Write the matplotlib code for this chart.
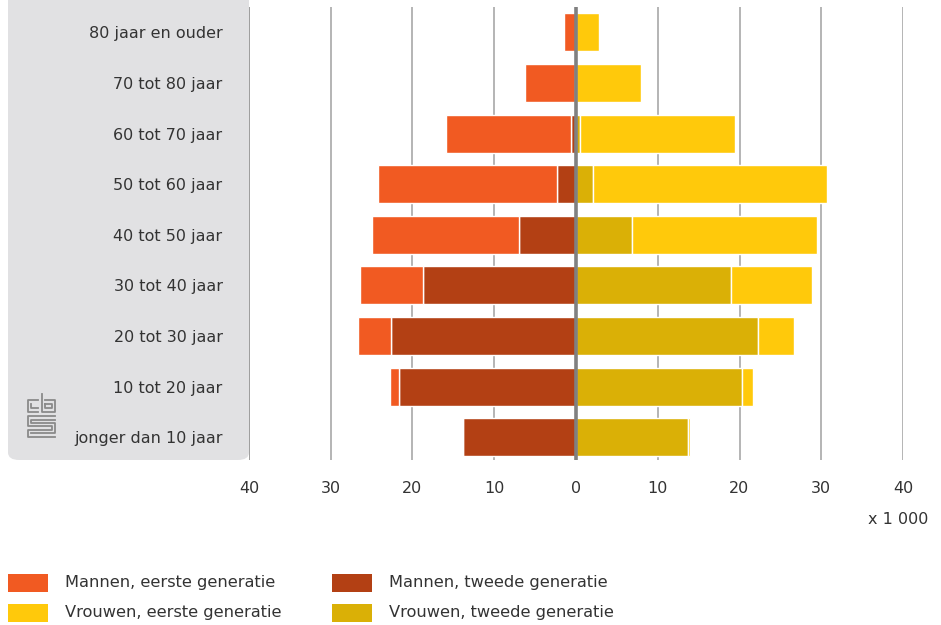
import matplotlib
matplotlib.use("Agg")
import matplotlib.pyplot as plt
from matplotlib.patches import FancyBboxPatch, Rectangle
from matplotlib.lines import Line2D
import numpy as np

plt.rcParams['font.family'] = ['DejaVu Sans']

categories = ["jonger dan 10 jaar", "10 tot 20 jaar", "20 tot 30 jaar", "30 tot 40 jaar",
              "40 tot 50 jaar", "50 tot 60 jaar", "60 tot 70 jaar", "70 tot 80 jaar",
              "80 jaar en ouder"]
# values x 1 000
mannen_tweede = [13.8, 21.7, 22.6, 18.7, 7.0, 2.3, 0.6, 0.1, 0.0]
mannen_eerste = [0.0, 1.1, 4.1, 7.7, 18.0, 21.9, 15.3, 6.1, 1.5]
vrouwen_tweede = [13.7, 20.3, 22.3, 18.9, 6.9, 2.1, 0.5, 0.0, 0.0]
vrouwen_eerste = [0.2, 1.4, 4.4, 10.0, 22.6, 28.6, 19.0, 8.0, 2.8]

series_labels = ["Mannen, eerste generatie", "Mannen, tweede generatie",
                 "Vrouwen, eerste generatie", "Vrouwen, tweede generatie"]
xticks = [-40, -30, -20, -10, 0, 10, 20, 30, 40]
xtick_labels = ["40", "30", "20", "10", "0", "10", "20", "30", "40"]

c_m1 = "#F15A22"
c_m2 = "#B34014"
c_v1 = "#FFC90B"
c_v2 = "#DAB006"
txt = "#333333"

W, H = 941, 625
fig = plt.figure(figsize=(W / 100, H / 100), dpi=100)

# grey panel behind category labels
panel = FancyBboxPatch((8 / W, 1 - 460 / H), (249 - 8) / W, 470 / H,
                       boxstyle="round,pad=0,rounding_size=0.012",
                       transform=fig.transFigure, facecolor="#E1E1E3",
                       edgecolor="none", zorder=-5)
fig.patches.append(panel)

ax = fig.add_axes([249 / W, 1 - 460 / H, (903 - 249) / W, (460 - 7) / H])
ax.set_zorder(2)
ax.patch.set_alpha(0)

y = np.arange(len(categories))
h = 0.75
mt = np.array(mannen_tweede)
me = np.array(mannen_eerste)
vt = np.array(vrouwen_tweede)
ve = np.array(vrouwen_eerste)

ax.barh(y, -mt, height=h, color=c_m2, edgecolor="white", linewidth=1, zorder=3)
ax.barh(y, -me, left=-mt, height=h, color=c_m1, edgecolor="white", linewidth=1, zorder=3)
ax.barh(y, vt, height=h, color=c_v2, edgecolor="white", linewidth=1, zorder=3)
ax.barh(y, ve, left=vt, height=h, color=c_v1, edgecolor="white", linewidth=1, zorder=3)

for xv in xticks:
    if xv == 0:
        continue
    ax.axvline(xv, color="#A8A8A8" if xv != -40 else "#8C8C8C", lw=1.2, zorder=1)
ax.axvline(0, color="#808080", lw=2.6, zorder=4)

ax.set_xlim(-40, 40)
ax.set_ylim(-0.45, 8.5)
ax.set_xticks(xticks)
ax.set_xticklabels(xtick_labels)
ax.set_yticks(y)
ax.set_yticklabels(categories)
for s in ax.spines.values():
    s.set_visible(False)
ax.tick_params(axis="both", length=0, colors=txt, labelsize=11.5)
ax.tick_params(axis="x", pad=15)
ax.tick_params(axis="y", pad=19)

fig.text(928 / W, 1 - 520 / H, "x 1 000", ha="right", va="center", color=txt, fontsize=11.5)

# legend
leg = [(8, 583, c_m1, series_labels[0]), (332, 583, c_m2, series_labels[1]),
       (8, 613, c_v1, series_labels[2]), (332, 613, c_v2, series_labels[3])]
for lx, ly, col, lab in leg:
    fig.patches.append(Rectangle((lx / W, 1 - (ly + 9) / H), 40 / W, 18 / H,
                                 transform=fig.transFigure, facecolor=col,
                                 edgecolor="none"))
    fig.text((lx + 57) / W, 1 - ly / H, lab, ha="left", va="center",
             color=txt, fontsize=11.7)

# simplified cbs logo
lc = "#8A8A8A"
def seg(pts):
    xs = [p[0] / W for p in pts]
    ys = [1 - p[1] / H for p in pts]
    fig.add_artist(Line2D(xs, ys, transform=fig.transFigure, color=lc, lw=1.3))

seg([(38, 400), (28, 400), (28, 412), (38, 412)])
seg([(31, 404), (31, 408), (38, 408)])
seg([(42, 394), (42, 412), (55, 412), (55, 400), (45, 400)])
seg([(45, 404), (52, 404), (52, 408), (45, 408), (45, 404)])
seg([(55, 416), (28, 416), (28, 426), (52, 426), (52, 430), (28, 430), (28, 437), (55, 437)])
seg([(55, 420), (31, 420), (31, 423), (55, 423), (55, 433), (31, 433)])

fig.savefig("out.png", dpi=100)
